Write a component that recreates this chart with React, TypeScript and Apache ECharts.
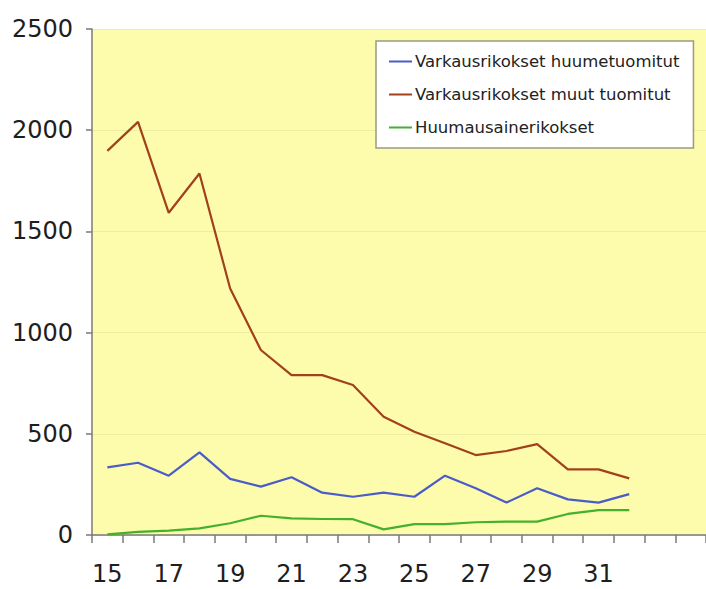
import React, { useEffect, useRef } from "react";
import * as echarts from "echarts";

const categories = ["15","16","17","18","19","20","21","22","23","24","25","26","27","28","29","30","31","32","",""];
const seriesNames = ["Varkausrikokset huumetuomitut", "Varkausrikokset muut tuomitut", "Huumausainerikokset"];
const huumetuomitut = [334, 357, 293, 408, 277, 239, 285, 209, 189, 209, 189, 293, 231, 160, 231, 176, 160, 202];
const muutTuomitut = [1898, 2041, 1592, 1786, 1218, 914, 790, 790, 741, 584, 510, 453, 395, 415, 449, 324, 324, 280];
const huumausaine = [3, 15, 22, 33, 58, 95, 82, 79, 78, 28, 54, 54, 63, 66, 66, 104, 123, 123];
const seriesColors = ["#4a5cc8", "#a3401c", "#45b02e"];

export default function App() {
  const ref = useRef<HTMLDivElement>(null);
  useEffect(() => {
    if (!ref.current) return;
    const chart = echarts.init(ref.current, null, { renderer: "svg" });
    const values = [huumetuomitut, muutTuomitut, huumausaine];
    chart.setOption({
      animation: false,
      backgroundColor: "#ffffff",
      grid: {
        left: 92,
        top: 29,
        width: 620,
        height: 506,
        show: true,
        backgroundColor: "#fcfcac",
        borderWidth: 0,
      },
      legend: {
        orient: "vertical",
        left: 376,
        top: 41,
        backgroundColor: "#ffffff",
        borderColor: "#9a9a80",
        borderWidth: 1.5,
        padding: [12, 14, 12, 13],
        itemGap: 16,
        itemWidth: 23,
        itemHeight: 2,
        icon: "rect",
        textStyle: { fontFamily: "DejaVu Sans", fontSize: 16.5, color: "#222", padding: [0, 0, 0, -2] },
        data: seriesNames,
      },
      xAxis: {
        type: "category",
        data: categories,
        boundaryGap: true,
        axisLine: { lineStyle: { color: "#7a7a7a", width: 1.5 } },
        axisTick: { show: true, interval: 0, length: 8, lineStyle: { color: "#7a7a7a", width: 1.5 } },
        axisLabel: {
          interval: 1,
          margin: 27,
          fontFamily: "DejaVu Sans",
          fontSize: 24,
          color: "#1e1e1e",
        },
        splitLine: { show: false },
      },
      yAxis: {
        type: "value",
        min: 0,
        max: 2500,
        interval: 500,
        axisLine: { show: true, lineStyle: { color: "#7a7a7a", width: 1.5 } },
        axisTick: { show: true, length: 6, lineStyle: { color: "#7a7a7a", width: 1.5 } },
        axisLabel: {
          margin: 19,
          fontFamily: "DejaVu Sans",
          fontSize: 24,
          color: "#1e1e1e",
          formatter: (v: number) => String(v),
        },
        splitLine: { show: true, lineStyle: { color: "#eeeea0", width: 1 } },
      },
      series: seriesNames.map((name, i) => ({
        name,
        type: "line",
        data: values[i],
        symbol: "none",
        color: seriesColors[i],
        lineStyle: { width: 2.2, color: seriesColors[i] },
      })),
    });
    return () => chart.dispose();
  }, []);
  return (
    <div
      ref={ref}
      style={{ position: "fixed", left: 0, top: 0, width: 706, height: 589 }}
    />
  );
}
